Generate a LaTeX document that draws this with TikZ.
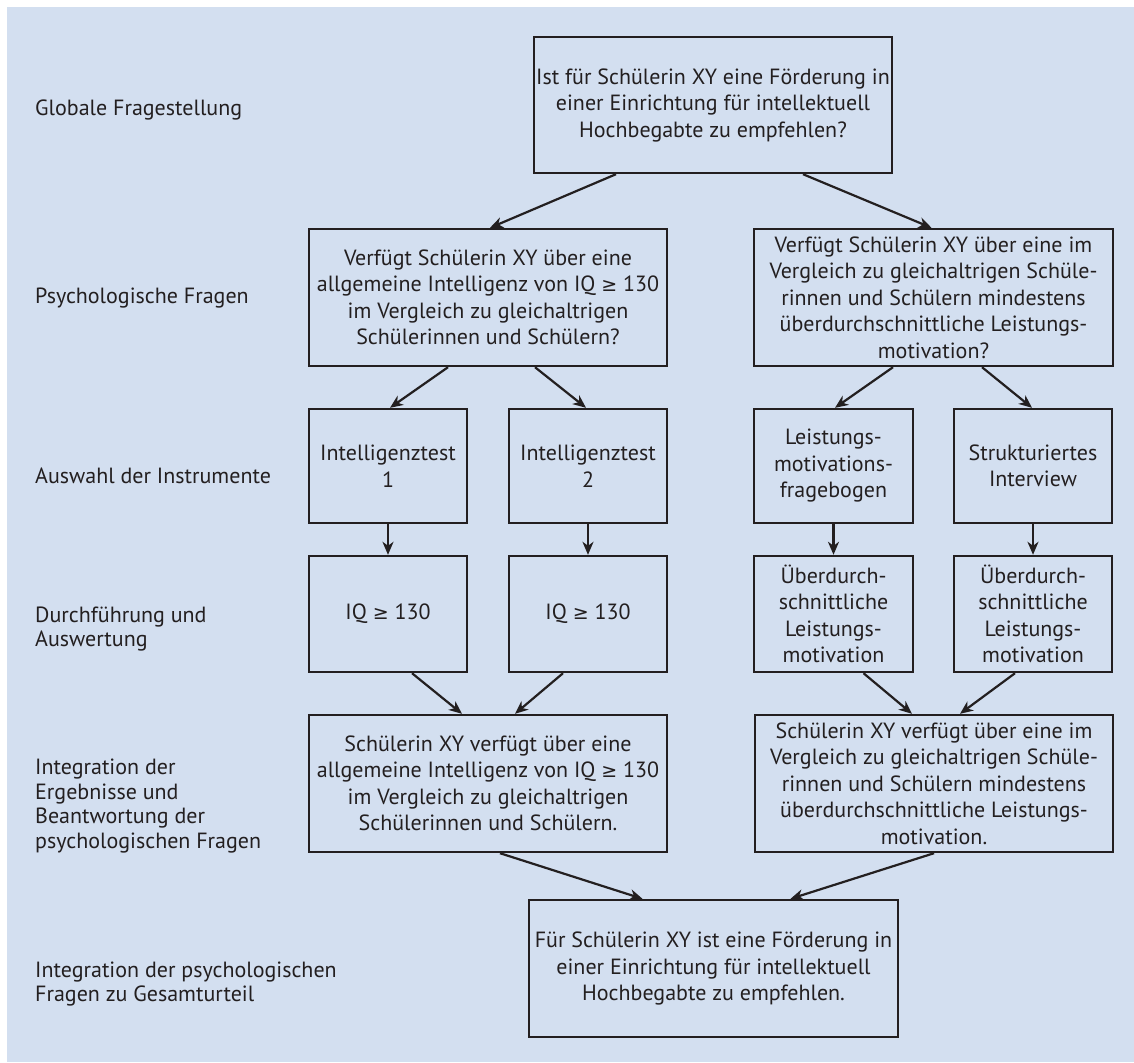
\documentclass[tikz,border=0pt]{standalone}
\usepackage{fontspec}
\setmainfont{PT Sans}
\newfontfamily\symf{DejaVu Sans}
\usetikzlibrary{arrows.meta}
\definecolor{bgblue}{RGB}{211,223,240}
\definecolor{ink}{RGB}{35,31,32}
\newcommand{\gq}{{\symf\fontsize{19}{26}\selectfont ≥}}
\tikzset{
  box/.style={draw=ink, line width=2.4pt, inner sep=0pt, align=center, text=ink,
    font=\fontsize{22}{26.5}\selectfont},
  lab/.style={anchor=west, align=left, inner sep=0pt, text=ink,
    font=\fontsize{22}{24.5}\selectfont},
  arr/.style={draw=ink, line width=2.2pt, -{Stealth[length=13pt,width=11pt,inset=4pt]}}
}
\begin{document}
\begin{tikzpicture}[x=1pt,y=-1pt]
\useasboundingbox (0,0) rectangle (1134,1062);
\fill[white] (0,0) rectangle (1134,1062);
\fill[bgblue] (7,7) rectangle (1134,1062);

% row labels
\node[lab] (l1) at (35,110) {Globale Fragestellung};
\node[lab] (l2) at (35,298) {Psychologische Fragen};
\node[lab] (l3) at (35,476) {Auswahl der Instrumente};
\node[lab] (l4) at (35,629) {Durchführung und\\Auswertung};
\node[lab] (l5) at (35,806) {Integration der\\Ergebnisse und\\Beantwortung der\\psychologischen Fragen};
\node[lab] (l6) at (35,984) {Integration der psychologischen\\Fragen zu Gesamturteil};

% boxes
\node[box, minimum width=358pt, minimum height=136pt] (top) at (713,105)
  {Ist für Schülerin XY eine Förderung in\\einer Einrichtung für intellektuell\\Hochbegabte zu empfehlen?};
\node[box, minimum width=358pt, minimum height=137pt] (q1) at (488,297.5)
  {Verfügt Schülerin XY über eine\\allgemeine Intelligenz von IQ \gq\ 130\\im Vergleich zu gleichaltrigen\\Schülerinnen und Schülern?};
\node[box, minimum width=359pt, minimum height=137pt] (q2) at (933.5,297.5)
  {Verfügt Schülerin XY über eine im\\Vergleich zu gleichaltrigen Schüle-\\rinnen und Schülern mindestens\\überdurchschnittliche Leistungs-\\motivation?};

\node[box, minimum width=158pt, minimum height=114pt] (it1) at (388,466) {Intelligenztest\\1};
\node[box, minimum width=158pt, minimum height=114pt] (it2) at (588,466) {Intelligenztest\\2};
\node[box, minimum width=159pt, minimum height=114pt] (lm) at (833.5,466) {Leistungs-\\motivations-\\fragebogen};
\node[box, minimum width=158pt, minimum height=114pt] (si) at (1033,466) {Strukturiertes\\Interview};

\node[box, minimum width=158pt, minimum height=116pt] (iq1) at (388,614) {IQ \gq\ 130};
\node[box, minimum width=158pt, minimum height=116pt] (iq2) at (588,614) {IQ \gq\ 130};
\node[box, minimum width=159pt, minimum height=116pt] (ue1) at (833.5,614) {Überdurch-\\schnittliche\\Leistungs-\\motivation};
\node[box, minimum width=158pt, minimum height=116pt] (ue2) at (1033,614) {Überdurch-\\schnittliche\\Leistungs-\\motivation};

\node[box, minimum width=358pt, minimum height=137pt] (int1) at (488,783.5)
  {Schülerin XY verfügt über eine\\allgemeine Intelligenz von IQ \gq\ 130\\im Vergleich zu gleichaltrigen\\Schülerinnen und Schülern.};
\node[box, minimum width=358pt, minimum height=137pt] (int2) at (934,783.5)
  {Schülerin XY verfügt über eine im\\Vergleich zu gleichaltrigen Schüle-\\rinnen und Schülern mindestens\\überdurchschnittliche Leistungs-\\motivation.};

\node[box, minimum width=369pt, minimum height=137pt] (fin) at (713.5,968.5)
  {Für Schülerin XY ist eine Förderung in\\einer Einrichtung für intellektuell\\Hochbegabte zu empfehlen.};

% connectors
\draw[arr] ([xshift=-97pt]top.south) -- ([xshift=2pt]q1.north);
\draw[arr] ([xshift=90pt]top.south) -- ([xshift=-2pt]q2.north);

\draw[arr] ([xshift=-40pt]q1.south) -- ([xshift=2pt]it1.north);
\draw[arr] ([xshift=47pt]q1.south) -- ([xshift=-2pt]it2.north);
\draw[arr] ([xshift=-40.5pt]q2.south) -- ([xshift=1.5pt]lm.north);
\draw[arr] ([xshift=48.5pt]q2.south) -- ([xshift=-1pt]si.north);

\draw[arr] (it1.south) -- (iq1.north);
\draw[arr] (it2.south) -- (iq2.north);
\draw[arr] (lm.south) -- (ue1.north);
\draw[arr] (si.south) -- (ue2.north);

\draw[arr] ([xshift=24pt]iq1.south) -- ([xshift=-26pt]int1.north);
\draw[arr] ([xshift=-25pt]iq2.south) -- ([xshift=27pt]int1.north);
\draw[arr] ([xshift=30pt]ue1.south) -- ([xshift=-22pt]int2.north);
\draw[arr] ([xshift=-18pt]ue2.south) -- ([xshift=26pt]int2.north);

\draw[arr] ([xshift=12pt]int1.south) -- ([xshift=-71pt]fin.north);
\draw[arr] (int2.south) -- ([xshift=77pt]fin.north);
\end{tikzpicture}
\end{document}
